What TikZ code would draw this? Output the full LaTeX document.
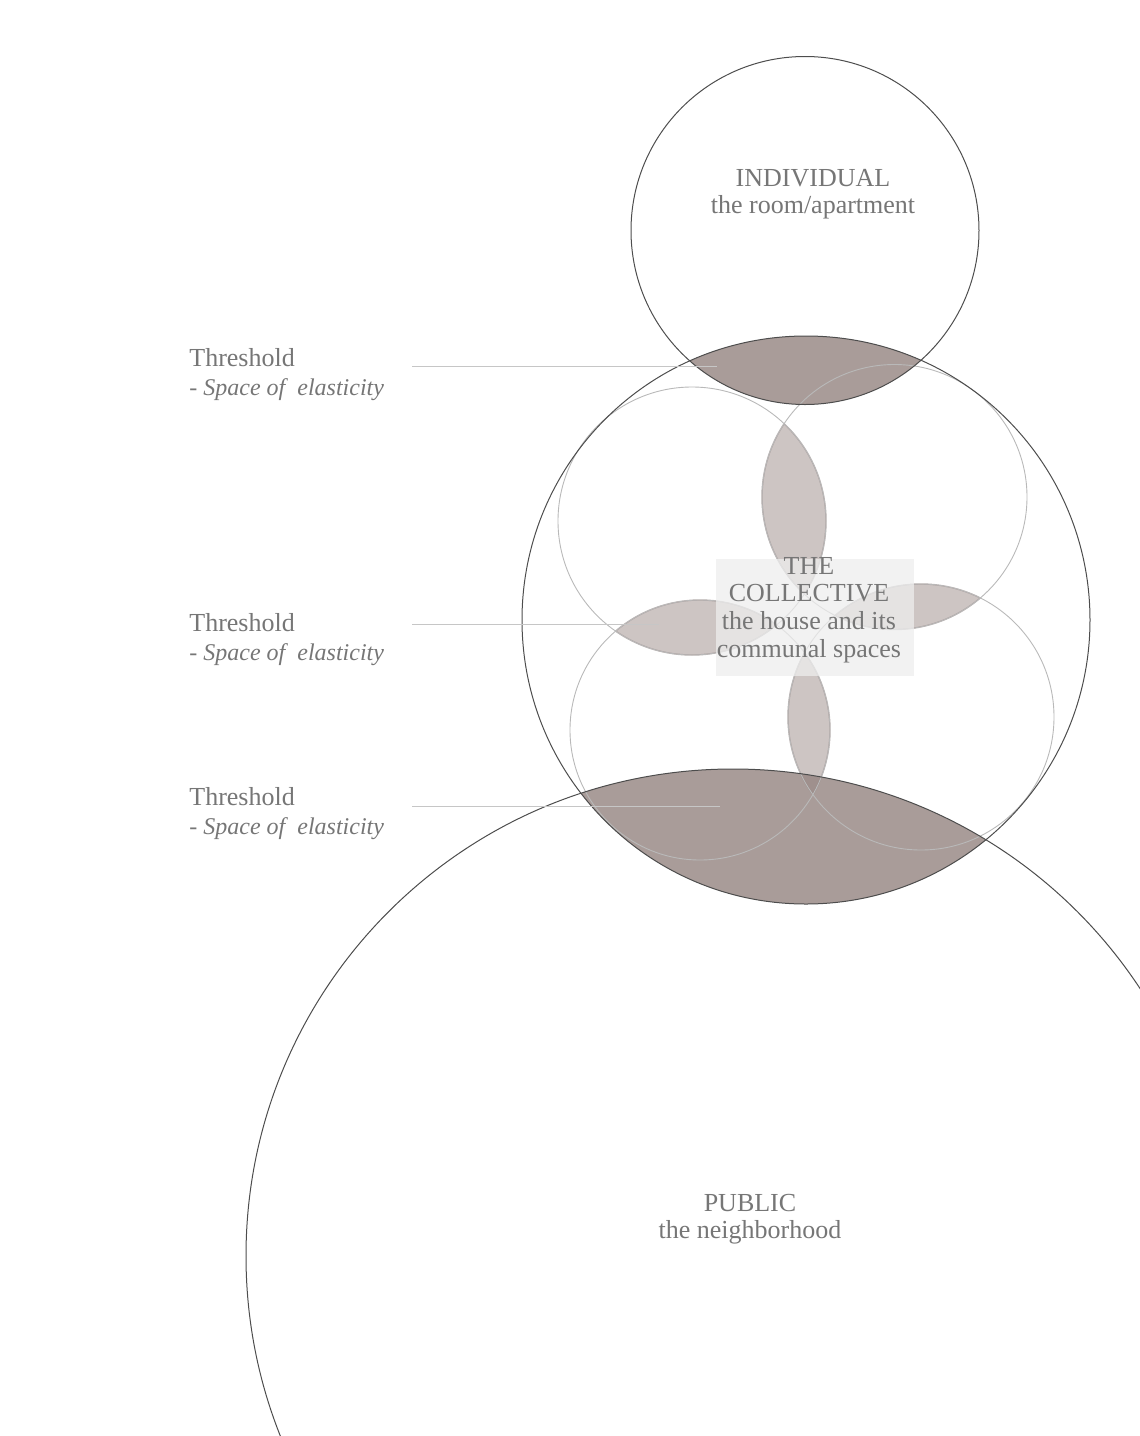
\documentclass[tikz,border=0pt]{standalone}
\usepackage{fontspec}
\setmainfont{Liberation Serif}
\usetikzlibrary{positioning}

\definecolor{txtgray}{HTML}{767676}
\definecolor{ringgray}{HTML}{4D4D4D}
\definecolor{thingray}{HTML}{B9B9B9}
\definecolor{lensbrown}{HTML}{A99C99}
\definecolor{petalbrown}{HTML}{968582}
\definecolor{leadgray}{HTML}{C6C6C6}
\definecolor{boxgray}{HTML}{EEEEEE}

% lens between two circles: centre A, radius A, centre B, radius B
\newcommand{\drawpetal}[4]{%
  \begin{scope}
    \clip (#1) circle (#2);
    \fill[petal] (#3) circle (#4);
    \draw[petaledge] (#3) circle (#4);
  \end{scope}
  \begin{scope}
    \clip (#3) circle (#4);
    \draw[petaledge] (#1) circle (#2);
  \end{scope}}

\begin{document}
\begin{tikzpicture}[x=0.5pt, y=-0.5pt,
ring/.style = {draw=ringgray, line width=0.5pt},
subring/.style = {draw=thingray, line width=0.45pt},
lens/.style = {fill=lensbrown},
petal/.style = {fill=petalbrown, fill opacity=0.48},
petaledge/.style = {draw=petalbrown, draw opacity=0.55, line width=0.7pt},
box/.style = {rectangle, fill=boxgray, fill opacity=0.75, inner sep=0pt},
title/.style = {text=txtgray, align=center, font=\fontsize{13}{13.6}\selectfont},
side/.style = {text=txtgray, inner sep=0pt, font=\fontsize{13}{14.5}\selectfont},
sideit/.style = {text=txtgray, inner sep=0pt, font=\fontsize{12}{14.5}\itshape},
leader/.style = {draw=leadgray, line width=0.45pt}]

\useasboundingbox (0,0) rectangle (1140,1436);
\clip (0,0) rectangle (1140,1436);

% centres of the circles
\coordinate (ind) at (805,230.5);
\coordinate (coll) at (806,620);
\coordinate (pub) at (733,1256);
\coordinate (tl) at (692,521);
\coordinate (tr) at (894.5,497);
\coordinate (bl) at (700,730);
\coordinate (br) at (921,717);

% dark thresholds
\begin{scope}
  \clip (ind) circle (174);
  \fill[lens] (coll) circle (284);
\end{scope}
\begin{scope}
  \clip (pub) circle (487);
  \fill[lens] (coll) circle (284);
\end{scope}

% petals
\drawpetal{tl}{134}{tr}{132.5}
\drawpetal{tr}{132.5}{br}{133}
\drawpetal{tl}{134}{bl}{130}
\drawpetal{bl}{130}{br}{133}

% circles
\draw[subring] (tl) circle (134);
\draw[subring] (tr) circle (132.5);
\draw[subring] (bl) circle (130);
\draw[subring] (br) circle (133);
\draw[ring] (ind) circle (174);
\draw[ring] (coll) circle (284);
\draw[ring] (pub) circle (487);

% labels
\node[box, minimum width=99pt, minimum height=58.5pt] (collbox) at (815,617.5) {};
\node[title] (individual) at (813,194) {INDIVIDUAL\\the room/apartment};
\node[title, font=\fontsize{13}{13.9}\selectfont] (collective) at (809,610)
  {THE\\COLLECTIVE\\the house and its\\communal spaces};
\node[title] (public) at (750,1219) {PUBLIC\\the neighborhood};

\node[side, anchor=base west] (thr1) at (189,366) {Threshold};
\node[sideit, anchor=base west] (spc1) at ([yshift=-14.5pt]thr1.base west) {- Space of\ \ elasticity};
\node[side, anchor=base west] (thr2) at (189,631) {Threshold};
\node[sideit, anchor=base west] (spc2) at ([yshift=-14.5pt]thr2.base west) {- Space of\ \ elasticity};
\node[side, anchor=base west] (thr3) at (189,805) {Threshold};
\node[sideit, anchor=base west] (spc3) at ([yshift=-14.5pt]thr3.base west) {- Space of\ \ elasticity};

% leader lines
\coordinate (l1a) at (412,366);
\coordinate (l1b) at (717,366);
\coordinate (l2a) at (412,624);
\coordinate (l2b) at (659,624);
\coordinate (l3a) at (412,806);
\coordinate (l3b) at (720,806);
\draw[leader] (l1a) -- (l1b);
\draw[leader] (l2a) -- (l2b);
\draw[leader] (l3a) -- (l3b);

\end{tikzpicture}
\end{document}
